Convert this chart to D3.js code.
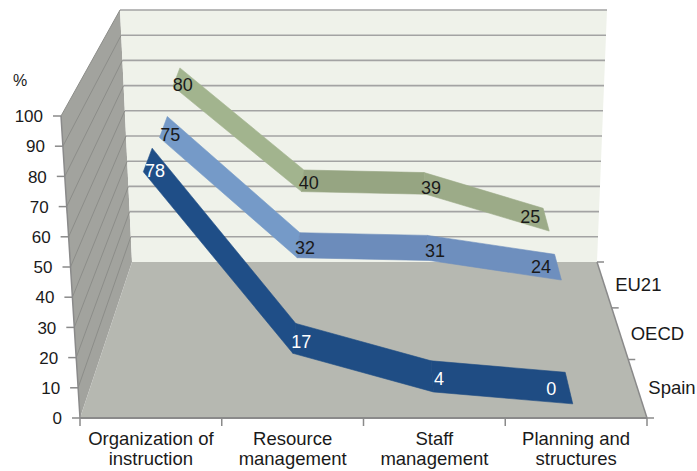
<!DOCTYPE html>
<html>
<head>
<meta charset="utf-8">
<script src="https://cdn.jsdelivr.net/npm/d3@7"></script>
<style>
  html, body { margin: 0; padding: 0; background: #ffffff; }
  svg { display: block; font-family: "Liberation Sans", Arial, sans-serif; }
</style>
</head>
<body>
<svg id="chart" width="697" height="471"></svg>
<script>
// ---- data ----
const categories = [
  ["Organization of", "instruction"],
  ["Resource", "management"],
  ["Staff", "management"],
  ["Planning and", "structures"]
];
const seriesNames = ["Spain", "OECD", "EU21"];
const spainValues = [78, 17, 4, 0];
const oecdValues  = [75, 32, 31, 24];
const eu21Values  = [80, 40, 39, 25];
const valueTicks  = [0, 10, 20, 30, 40, 50, 60, 70, 80, 90, 100];

const seriesValues = [spainValues, oecdValues, eu21Values];

// ribbon fills: [flat-facing, steep-facing]
const seriesFills = [
  ["#1f4c82", "#1f4e87"],
  ["#6c8bbb", "#759ac8"],
  ["#96a482", "#a2b48e"]
];
const labelColors = ["#ffffff", "#1a1a1a", "#1a1a1a"];

// ---- 3-D box in screen space ----
// front plane (depth 0) and back plane (depth 1) corners
const box = {
  front: { yb: 418, yt: 116, xlb: 80, xlt: 61, xrb: 647, xrt: 662 },
  back:  { yb: 262, yt: 10,  xlb: 132, xlt: 120, xrb: 597, xrt: 607 },
  depthWeight: 1.2   // homogeneous weight of the back plane (perspective foreshortening)
};

const lerp = (a, b, t) => a + (b - a) * t;

function planePoint(p, u, v) {
  const xl = lerp(p.xlb, p.xlt, v);
  const xr = lerp(p.xrb, p.xrt, v);
  return [lerp(xl, xr, u), lerp(p.yb, p.yt, v)];
}

// u: 0..1 across categories, v: 0..1 up the value axis, z: 0..1 into depth
function project(u, v, z) {
  const f = planePoint(box.front, u, v);
  const b = planePoint(box.back, u, v);
  const w0 = 1 - z, w1 = z * box.depthWeight;
  return [(f[0] * w0 + b[0] * w1) / (w0 + w1), (f[1] * w0 + b[1] * w1) / (w0 + w1)];
}

// ---- scales ----
const xBand = d3.scaleBand().domain(d3.range(categories.length)).range([0, 1]);
const yScale = d3.scaleLinear().domain([0, 100]).range([0, 1]);
const zBand = d3.scaleBand().domain(seriesNames).range([0, 1]).paddingInner(0).paddingOuter(0);
const ribbonDepth = 0.54; // fraction of a series slot taken by its ribbon

const uOf = i => xBand(i) + xBand.bandwidth() / 2;

const svg = d3.select("#chart");
const poly = pts => "M" + pts.map(p => p.join(",")).join("L") + "Z";

// ---- walls ----
// side wall
svg.append("path")
  .attr("d", poly([project(0, 0, 0), project(0, 1, 0), project(0, 1, 1), project(0, 0, 1)]))
  .attr("fill", "#a2a39e");
// back wall
svg.append("path")
  .attr("d", poly([project(0, 0, 1), project(0, 1, 1), project(1, 1, 1), project(1, 0, 1)]))
  .attr("fill", "#eff2ea");
// floor
svg.append("path")
  .attr("d", poly([project(0, 0, 0), project(0, 0, 1), project(1, 0, 1), project(1, 0, 0)]))
  .attr("fill", "#b6b8b1");

// gridlines on back wall and side wall
valueTicks.forEach(t => {
  const v = yScale(t);
  if (t > 0) {
    const a = project(0, v, 1), b = project(1, v, 1);
    svg.append("line").attr("x1", a[0]).attr("y1", a[1]).attr("x2", b[0]).attr("y2", b[1])
      .attr("stroke", "#a3a3a3").attr("stroke-width", 1.6);
    const c = project(0, v, 0);
    svg.append("line").attr("x1", c[0]).attr("y1", c[1]).attr("x2", a[0]).attr("y2", a[1])
      .attr("stroke", "#8c8d89").attr("stroke-width", 1);
  }
});

// ---- value axis (front-left edge) ----
{
  const a = project(0, 0, 0), b = project(0, 1, 0);
  svg.append("line").attr("x1", a[0]).attr("y1", a[1]).attr("x2", b[0]).attr("y2", b[1])
    .attr("stroke", "#8a8a8a").attr("stroke-width", 1.5);
}
valueTicks.forEach(t => {
  const p = project(0, yScale(t), 0);
  svg.append("line").attr("x1", p[0] - 8).attr("y1", p[1]).attr("x2", p[0]).attr("y2", p[1])
    .attr("stroke", "#8a8a8a").attr("stroke-width", 1.5);
  svg.append("text").attr("x", p[0] - 18).attr("y", p[1]).attr("dy", "0.36em")
    .attr("text-anchor", "end").attr("font-size", 17).attr("fill", "#1a1a1a").text(t);
});
svg.append("text").attr("x", 20).attr("y", 80).attr("dy", "0.36em")
  .attr("text-anchor", "middle").attr("font-size", 16).attr("fill", "#1a1a1a").text("%");

// ---- category axis (front-bottom edge) ----
{
  const a = project(0, 0, 0), b = project(1, 0, 0);
  svg.append("line").attr("x1", a[0]).attr("y1", a[1]).attr("x2", b[0]).attr("y2", b[1])
    .attr("stroke", "#8a8a8a").attr("stroke-width", 2);
}
d3.range(categories.length + 1).forEach(i => {
  const p = project(i / categories.length, 0, 0);
  svg.append("line").attr("x1", p[0]).attr("y1", p[1]).attr("x2", p[0]).attr("y2", p[1] + 8)
    .attr("stroke", "#8a8a8a").attr("stroke-width", 1.5);
});
categories.forEach((lines, i) => {
  const p = project(uOf(i), 0, 0);
  const t = svg.append("text").attr("text-anchor", "middle").attr("font-size", 18.5).attr("fill", "#1a1a1a");
  lines.forEach((ln, k) => {
    t.append("tspan").attr("x", p[0]).attr("y", p[1] + 27 + k * 20).text(ln);
  });
});

// ---- series (depth) axis (right edge of floor) ----
{
  const a = project(1, 0, 0), b = project(1, 0, 1);
  svg.append("line").attr("x1", a[0]).attr("y1", a[1]).attr("x2", b[0]).attr("y2", b[1])
    .attr("stroke", "#8a8a8a").attr("stroke-width", 1.5);
}
d3.range(seriesNames.length + 1).forEach(k => {
  const p = project(1, 0, k / seriesNames.length);
  svg.append("line").attr("x1", p[0]).attr("y1", p[1]).attr("x2", p[0] + 7).attr("y2", p[1])
    .attr("stroke", "#8a8a8a").attr("stroke-width", 1.5);
});
seriesNames.forEach(name => {
  const p = project(1, 0, zBand(name) + zBand.bandwidth() / 2);
  svg.append("text").attr("x", p[0] + 11).attr("y", p[1]).attr("dy", "0.36em")
    .attr("font-size", 18.5).attr("fill", "#1a1a1a").text(name);
});

// ---- ribbons, back series first ----
const order = d3.range(seriesNames.length).reverse();
order.forEach(s => {
  const name = seriesNames[s];
  const vals = seriesValues[s];
  const zc = zBand(name) + zBand.bandwidth() / 2;
  const half = zBand.bandwidth() * ribbonDepth / 2;
  const zf = zc - half, zb = zc + half;
  const g = svg.append("g");
  for (let i = 0; i < vals.length - 1; i++) {
    const u0 = uOf(i), u1 = uOf(i + 1);
    const v0 = yScale(vals[i]), v1 = yScale(vals[i + 1]);
    const steep = Math.min(1, Math.abs(vals[i] - vals[i + 1]) / 30);
    const fill = d3.interpolateRgb(seriesFills[s][0], seriesFills[s][1])(steep);
    g.append("path")
      .attr("d", poly([project(u0, v0, zf), project(u1, v1, zf), project(u1, v1, zb), project(u0, v0, zb)]))
      .attr("fill", fill).attr("stroke", fill).attr("stroke-width", 0.6).attr("stroke-linejoin", "round");
  }
  // value labels sit just inside the ribbon next to each point
  vals.forEach((val, i) => {
    const last = i === vals.length - 1;
    const j = last ? i - 1 : i + 1;
    const t = last ? 0.13 : 0.05;
    const p0 = project(uOf(i), yScale(val), zc);
    const p1 = project(uOf(j), yScale(vals[j]), zc);
    const p = [lerp(p0[0], p1[0], t), lerp(p0[1], p1[1], t) + 2];
    svg.append("text").attr("x", p[0]).attr("y", p[1]).attr("dy", "0.36em")
      .attr("text-anchor", "middle").attr("font-size", 18).attr("fill", labelColors[s]).text(val);
  });
});
</script>
</body>
</html>
